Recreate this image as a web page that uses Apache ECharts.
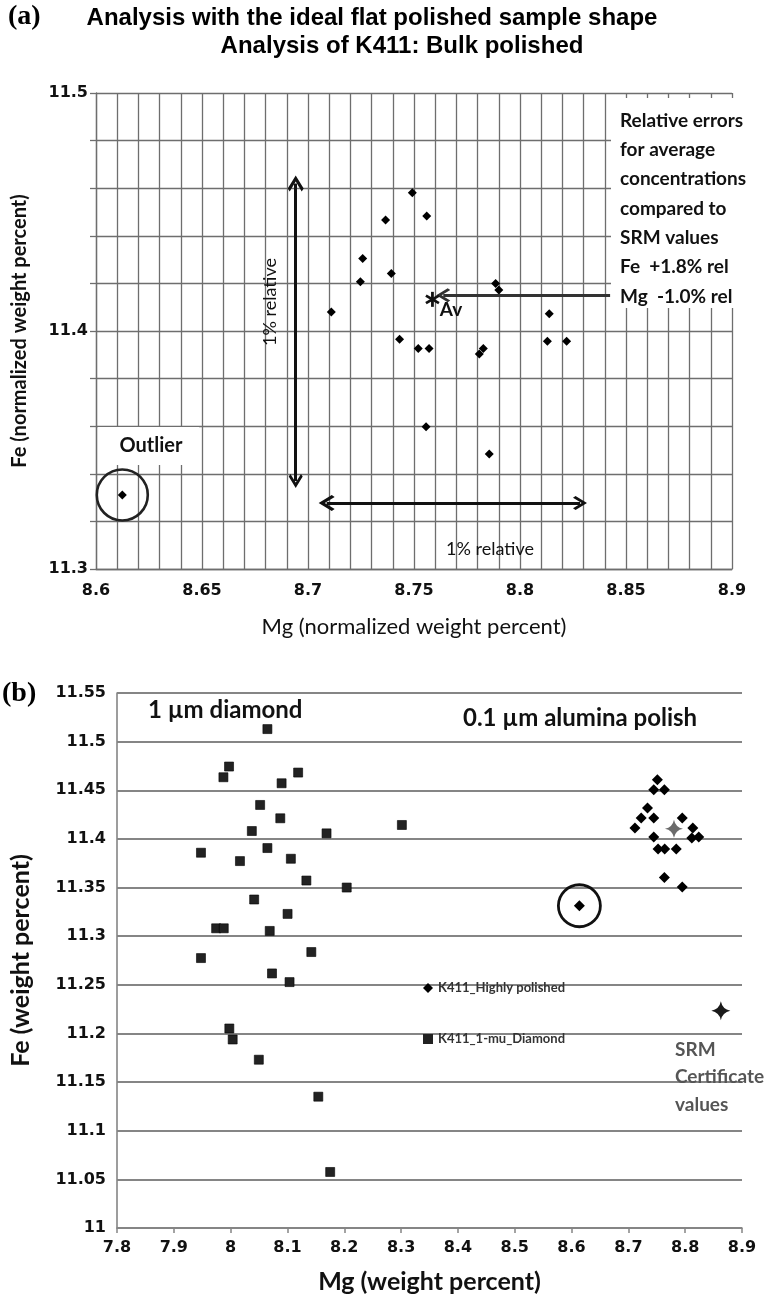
<!DOCTYPE html>
<html><head><meta charset="utf-8">
<script src="https://cdn.jsdelivr.net/npm/echarts@6/dist/echarts.min.js"></script>
<style>html,body{margin:0;padding:0;background:#fff}#c{width:774px;height:1296px}</style>
</head><body><div id="c"></div>
<script>
// ---------- Panel (a) data ----------
const aMg = [8.711, 8.7247, 8.7258, 8.7366, 8.7393, 8.7492, 8.756, 8.7432, 8.752, 8.7571, 8.7557, 8.7855, 8.7808, 8.7827, 8.7885, 8.79, 8.8138, 8.8129, 8.822];
const aFe = [11.408, 11.4207, 11.4305, 11.4466, 11.4242, 11.4581, 11.4483, 11.3965, 11.3926, 11.3926, 11.3598, 11.3483, 11.3903, 11.3926, 11.42, 11.4172, 11.4073, 11.3957, 11.3957];
const aOutlier = [8.6124, 11.3311];
const aAverage = [8.7587, 11.4133];
const aArrowVertical = [[8.6942, 11.462], [8.6942, 11.337]];
const aArrowHorizontal = [[8.7088, 11.3277], [8.8283, 11.3277]];
const aArrowToAv = [[8.7638, 11.415], [8.8425, 11.415]];

// ---------- Panel (b) data ----------
const bDiamondMg = [8.0647, 7.9972, 7.9873, 8.1188, 8.0897, 8.0519, 8.0874, 8.0373, 8.1688, 7.9478, 8.0647, 8.0164, 8.106, 8.1333, 8.2043, 8.0414, 8.1002, 7.9745, 7.9879, 8.0688, 8.3014, 7.9478, 8.142, 8.0728, 8.1037, 7.9977, 8.0036, 8.0496, 8.1543, 8.1752];
const bDiamondFe = [11.5129, 11.4744, 11.4634, 11.4682, 11.4572, 11.4349, 11.4212, 11.4081, 11.4057, 11.3858, 11.3906, 11.3772, 11.3796, 11.3572, 11.35, 11.3377, 11.3229, 11.3081, 11.3081, 11.3054, 11.4143, 11.2775, 11.2837, 11.2617, 11.2528, 11.2051, 11.1938, 11.173, 11.135, 11.0576];
const bPolishedMg = [8.7511, 8.7447, 8.7634, 8.7337, 8.7226, 8.7447, 8.7116, 8.7948, 8.8134, 8.7447, 8.8117, 8.8239, 8.7523, 8.7639, 8.7843, 8.7634, 8.7948, 8.6138];
const bPolishedFe = [11.4609, 11.4506, 11.4506, 11.4318, 11.4215, 11.4215, 11.4112, 11.4215, 11.4112, 11.402, 11.4009, 11.402, 11.3896, 11.3896, 11.3896, 11.3604, 11.3505, 11.3313];
const bOutlier = [8.6138, 11.3313];
const bAverageStar = [8.7803, 11.4105];
const bCertificate = [8.8628, 11.2233];

const seriesNames = ['K411_Highly polished', 'K411_1-mu_Diamond'];

const LATO = 'Lato, "Open Sans", sans-serif';
const DJ = '"DejaVu Sans", Verdana, sans-serif';
const zip = (xs, ys) => xs.map((x, i) => [x, ys[i]]);
const STAR = 'path://M0,-10 Q1.6,-1.6 10,0 Q1.6,1.6 0,10 Q-1.6,1.6 -10,0 Q-1.6,-1.6 0,-10 Z';
const CHEVRON = 'path://M0,0 L8,9 L6,11 L0,4.2 L-6,11 L-8,9 Z';
const gridA = '#6e6e6e';
const gridB = '#858585';

const chart = echarts.init(document.getElementById('c'), null, {renderer: 'canvas'});
chart.setOption({
  backgroundColor: '#fff',
  animation: false,
  grid: [
    {left: 96, top: 93, width: 636, height: 476},
    {left: 111, top: 693, width: 631, height: 535}
  ],
  xAxis: [
    {gridIndex: 0, type: 'value', min: 8.6, max: 8.9, interval: 0.05,
     name: 'Mg (normalized weight percent)', nameLocation: 'middle', nameGap: 47,
     nameTextStyle: {fontFamily: LATO, fontSize: 22, color: '#111'},
     axisLine: {show: true, lineStyle: {color: gridA, width: 1.3}},
     axisTick: {show: false},
     axisLabel: {fontFamily: DJ, fontWeight: 'bold', fontSize: 16, color: '#111', margin: 14},
     splitLine: {show: true, lineStyle: {color: gridA, width: 1.3}},
     minorTick: {show: true, splitNumber: 5, length: 0, lineStyle: {width: 0, color: 'rgba(0,0,0,0)'}},
     minorSplitLine: {show: true, lineStyle: {color: gridA, width: 1.3}}},
    {gridIndex: 1, type: 'value', min: 7.8, max: 8.9, interval: 0.1,
     name: 'Mg (weight percent)', nameLocation: 'middle', nameGap: 41,
     nameTextStyle: {fontFamily: LATO, fontSize: 25, fontWeight: 'bold', color: '#111'},
     axisLine: {show: true, lineStyle: {color: gridB, width: 1.6}},
     axisTick: {show: true, length: 5, lineStyle: {color: gridB, width: 1.5}},
     axisLabel: {fontFamily: DJ, fontWeight: 'bold', fontSize: 16, color: '#111', margin: 12},
     splitLine: {show: false}}
  ],
  yAxis: [
    {gridIndex: 0, type: 'value', min: 11.3, max: 11.5, interval: 0.1,
     name: 'Fe (normalized weight percent)', nameLocation: 'middle', nameGap: 66,
     nameTextStyle: {fontFamily: LATO, fontSize: 20, fontWeight: 'bold', color: '#111'},
     axisLine: {show: true, lineStyle: {color: gridA, width: 1.3}},
     axisTick: {show: true, length: 6, lineStyle: {color: gridA, width: 1.3}},
     minorTick: {show: true, splitNumber: 5, length: 6, lineStyle: {color: gridA, width: 1.3}},
     minorSplitLine: {show: true, lineStyle: {color: gridA, width: 1.3}},
     axisLabel: {fontFamily: DJ, fontWeight: 'bold', fontSize: 16, color: '#111', margin: 8},
     splitLine: {show: true, lineStyle: {color: gridA, width: 1.3}}},
    {gridIndex: 1, type: 'value', min: 11, max: 11.55, interval: 0.05,
     name: 'Fe (weight percent)', nameLocation: 'middle', nameGap: 84,
     nameTextStyle: {fontFamily: LATO, fontSize: 25, fontWeight: 'bold', color: '#111'},
     axisLine: {show: true, lineStyle: {color: gridB, width: 1.6}},
     axisTick: {show: false},
     axisLabel: {fontFamily: DJ, fontWeight: 'bold', fontSize: 16, color: '#111', margin: 11},
     splitLine: {show: true, lineStyle: {color: gridB, width: 1.8}}}
  ],
  legend: {
    data: seriesNames, left: 423, top: 981, orient: 'vertical', padding: 0,
    itemWidth: 10, itemHeight: 10, itemGap: 37, itemStyle: {borderWidth: 0},
    textStyle: {fontFamily: LATO, fontWeight: 'bold', fontSize: 13, color: '#333', lineHeight: 14}
  },
  series: [
    // panel (a)
    {type: 'scatter', name: 'a_points', xAxisIndex: 0, yAxisIndex: 0, symbol: 'diamond', symbolSize: 9,
     itemStyle: {color: '#000', opacity: 1}, data: zip(aMg, aFe).concat([aOutlier]), z: 5},
    {type: 'scatter', name: 'a_outlier_ring', xAxisIndex: 0, yAxisIndex: 0, symbol: 'circle', symbolSize: 51,
     itemStyle: {color: 'rgba(0,0,0,0)', borderColor: '#222', borderWidth: 2.6, opacity: 1}, data: [aOutlier], z: 5},
    {type: 'scatter', name: 'a_average', xAxisIndex: 0, yAxisIndex: 0, symbol: 'rect', symbolSize: [2.8, 15],
     itemStyle: {color: '#111', opacity: 1}, z: 6,
     data: [
       {value: aAverage, symbolRotate: 0,
        label: {show: true, position: 'right', distance: 6, offset: [0, 11], formatter: 'Av',
                fontFamily: LATO, fontWeight: 'bold', fontSize: 19, color: '#111'}},
       {value: aAverage, symbolRotate: 60},
       {value: aAverage, symbolRotate: -60}
     ]},
    {type: 'lines', name: 'a_arrows', coordinateSystem: 'cartesian2d', xAxisIndex: 0, yAxisIndex: 0,
     symbol: [CHEVRON, CHEVRON], symbolSize: [16, 14],
     lineStyle: {color: '#111', width: 3, opacity: 1}, z: 6,
     data: [{coords: aArrowVertical}, {coords: aArrowHorizontal}]},
    {type: 'lines', name: 'a_arrow_av', coordinateSystem: 'cartesian2d', xAxisIndex: 0, yAxisIndex: 0,
     symbol: [CHEVRON, 'none'], symbolSize: [14, 12],
     lineStyle: {color: '#333', width: 3, opacity: 1}, z: 6,
     data: [{coords: aArrowToAv}]},
    // panel (b)
    {type: 'scatter', name: seriesNames[0], xAxisIndex: 1, yAxisIndex: 1, symbol: 'diamond', symbolSize: 11,
     itemStyle: {color: '#000', opacity: 1}, data: zip(bPolishedMg, bPolishedFe), z: 5},
    {type: 'scatter', name: seriesNames[1], xAxisIndex: 1, yAxisIndex: 1, symbol: 'rect', symbolSize: 9,
     itemStyle: {color: '#222', borderColor: '#000', borderWidth: 0.6, opacity: 1}, data: zip(bDiamondMg, bDiamondFe), z: 5},
    {type: 'scatter', name: 'b_outlier_ring', xAxisIndex: 1, yAxisIndex: 1, symbol: 'circle', symbolSize: 42,
     itemStyle: {color: 'rgba(0,0,0,0)', borderColor: '#111', borderWidth: 2.8, opacity: 1}, data: [bOutlier], z: 5},
    {type: 'scatter', name: 'b_average', xAxisIndex: 1, yAxisIndex: 1, symbol: STAR, symbolSize: 18,
     itemStyle: {color: '#6b6b6b', opacity: 1}, data: [bAverageStar], z: 6},
    {type: 'scatter', name: 'b_certificate', xAxisIndex: 1, yAxisIndex: 1, symbol: STAR, symbolSize: 19,
     itemStyle: {color: '#1a1a1a', opacity: 1}, data: [bCertificate], z: 6}
  ],
  graphic: [
    {type: 'text', x: 8, y: 3, z: 50, style: {text: '(a)', font: 'bold 28px "Liberation Serif", serif', fill: '#000'}},
    {type: 'text', x: 372, y: 18, z: 50, style: {text: 'Analysis with the ideal flat polished sample shape',
      font: 'bold 24px "Liberation Sans Narrow", "Liberation Sans", sans-serif', fill: '#000',
      align: 'center', verticalAlign: 'middle', textAlign: 'center', textVerticalAlign: 'middle'}},
    {type: 'text', x: 402, y: 46, z: 50, style: {text: 'Analysis of K411: Bulk polished',
      font: 'bold 24px "Liberation Sans", sans-serif', fill: '#000',
      align: 'center', verticalAlign: 'middle', textAlign: 'center', textVerticalAlign: 'middle'}},
    {type: 'rect', z: 40, shape: {x: 98, y: 427, width: 101, height: 38}, style: {fill: '#fff'}},
    {type: 'text', x: 151, y: 446, z: 50, style: {text: 'Outlier', font: 'bold 20px ' + LATO, fill: '#111',
      align: 'center', verticalAlign: 'middle', textAlign: 'center', textVerticalAlign: 'middle'}},
    {type: 'rect', z: 40, shape: {x: 611, y: 98, width: 163, height: 210}, style: {fill: '#fff'}},
    {type: 'text', x: 620, y: 106, z: 50, style: {
      text: 'Relative errors\nfor average\nconcentrations\ncompared to\nSRM values\nFe  +1.8% rel\nMg  -1.0% rel',
      font: 'bold 19px ' + LATO, lineHeight: 29.3, fill: '#111'}},
    {type: 'text', x: 270, y: 302, rotation: Math.PI / 2, z: 50, style: {text: '1% relative', font: '18px ' + LATO, fill: '#111',
      align: 'center', verticalAlign: 'middle', textAlign: 'center', textVerticalAlign: 'middle'}},
    {type: 'text', x: 490, y: 549, z: 50, style: {text: '1% relative', font: '18px ' + LATO, fill: '#111',
      align: 'center', verticalAlign: 'middle', textAlign: 'center', textVerticalAlign: 'middle'}},
    {type: 'text', x: 2, y: 680, z: 50, style: {text: '(b)', font: 'bold 28px "Liberation Serif", serif', fill: '#000'}},
    {type: 'text', x: 148, y: 710, z: 50, style: {text: '1 \u00b5m diamond', font: 'bold 24px ' + LATO, fill: '#111',
      verticalAlign: 'middle', textVerticalAlign: 'middle'}},
    {type: 'text', x: 463, y: 718, z: 50, style: {text: '0.1 \u00b5m alumina polish', font: 'bold 24px ' + LATO, fill: '#111',
      verticalAlign: 'middle', textVerticalAlign: 'middle'}},
    {type: 'text', x: 675, y: 1036, z: 50, style: {text: 'SRM\nCertificate\nvalues', font: 'bold 19px ' + LATO,
      lineHeight: 27.5, fill: '#555'}}
  ]
});
</script></body></html>
